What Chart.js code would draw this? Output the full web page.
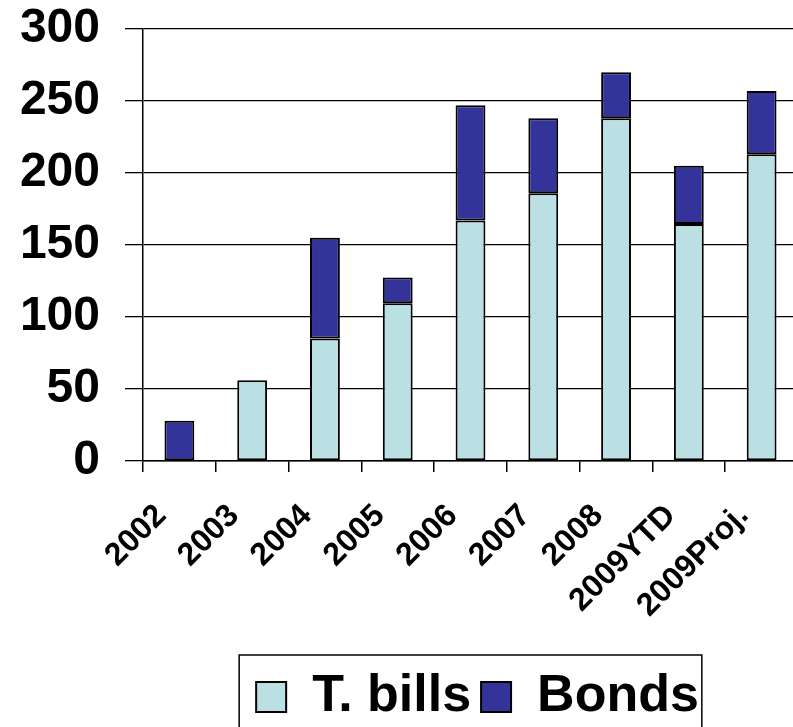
<!DOCTYPE html>
<html>
<head>
<meta charset="utf-8">
<script src="https://cdn.jsdelivr.net/npm/chart.js@4"></script>
<style>
  html, body { margin: 0; padding: 0; background: #fff; overflow: hidden; }
  #wrap { width: 800px; height: 741px; position: relative; }
</style>
</head>
<body>
<div id="wrap"><canvas id="issuanceChart"></canvas></div>
<script>
var years = ['2002', '2003', '2004', '2005', '2006', '2007', '2008', '2009YTD', '2009Proj.'];
var tBills = [null, 56, 85, 109.5, 167, 186, 238, 164.5, 213];
var bonds = [28, null, 70, 18, 80, 52, 32, 40.5, 44];
var yTicks = [0, 50, 100, 150, 200, 250, 300];

var FONT = "'Liberation Sans', Arial, sans-serif";

// legend sits under the plot area with a frame round it
var legendFrame = {
    id: 'legendFrame',
    afterLayout: function(chart) {
        var lg = chart.legend;
        lg.left = chart.chartArea.left + 14;
        lg.right = chart.chartArea.right;
    },
    afterDraw: function(chart) {
        var lg = chart.legend;
        var ctx = chart.ctx;
        var mid = (lg.left + lg.right) / 2 - 7;
        var half = lg.lineWidths[0] / 2 + 5;
        ctx.save();
        ctx.strokeStyle = '#000';
        ctx.lineWidth = 1.5;
        ctx.strokeRect(mid - half, lg.top - 6, half * 2, lg.height + 40);
        ctx.restore();
    }
};

var ctx = document.getElementById('issuanceChart').getContext('2d');
var chart = new Chart(ctx, {
    type: 'bar',
    data: {
        labels: years,
        datasets: [{
            label: 'T. bills',
            data: tBills,
            backgroundColor: '#BBE0E3',
            borderColor: '#000',
            borderWidth: 2,
            borderSkipped: false,
            barPercentage: 0.41,
            categoryPercentage: 1
        }, {
            label: 'Bonds',
            data: bonds,
            backgroundColor: '#333399',
            borderColor: '#000',
            borderWidth: 2,
            borderSkipped: false,
            barPercentage: 0.41,
            categoryPercentage: 1
        }]
    },
    options: {
        responsive: true,
        maintainAspectRatio: false,
        animation: false,
        layout: {
            padding: { left: 20, top: 29, right: 2, bottom: 8 }
        },
        plugins: {
            tooltip: { enabled: false },
            legend: {
                position: 'bottom',
                labels: {
                    color: '#000',
                    font: { family: FONT, size: 52, weight: 'bold' },
                    boxWidth: 30,
                    boxHeight: 30,
                    padding: 10
                }
            }
        },
        scales: {
            x: {
                stacked: true,
                grid: {
                    drawOnChartArea: false,
                    drawTicks: true,
                    tickLength: 11,
                    color: '#000',
                    lineWidth: 1.5
                },
                border: { color: '#000', width: 1.5 },
                ticks: {
                    color: '#000',
                    font: { family: FONT, size: 32, weight: 'bold' },
                    minRotation: 45,
                    maxRotation: 45,
                    autoSkip: false,
                    padding: 25,
                    labelOffset: -18
                },
                afterFit: function(scale) {
                    scale.height = 200;
                    scale.paddingLeft = 0;
                    scale.paddingRight = 0;
                }
            },
            y: {
                stacked: true,
                min: 0,
                max: 300,
                grid: {
                    color: '#000',
                    lineWidth: 1.3,
                    tickLength: 18
                },
                border: { color: '#000', width: 1.5 },
                ticks: {
                    color: '#000',
                    font: { family: FONT, size: 48, weight: 'bold' },
                    padding: 25
                },
                afterBuildTicks: function(scale) {
                    scale.ticks = yTicks.map(function(v) { return { value: v }; });
                },
                afterFit: function(scale) {
                    scale.width = 123;
                    // top label may overhang; layout padding handles it
                    scale.paddingTop = 0;
                    scale.paddingBottom = 0;
                }
            }
        }
    },
    plugins: [legendFrame]
});
</script>
</body>
</html>
